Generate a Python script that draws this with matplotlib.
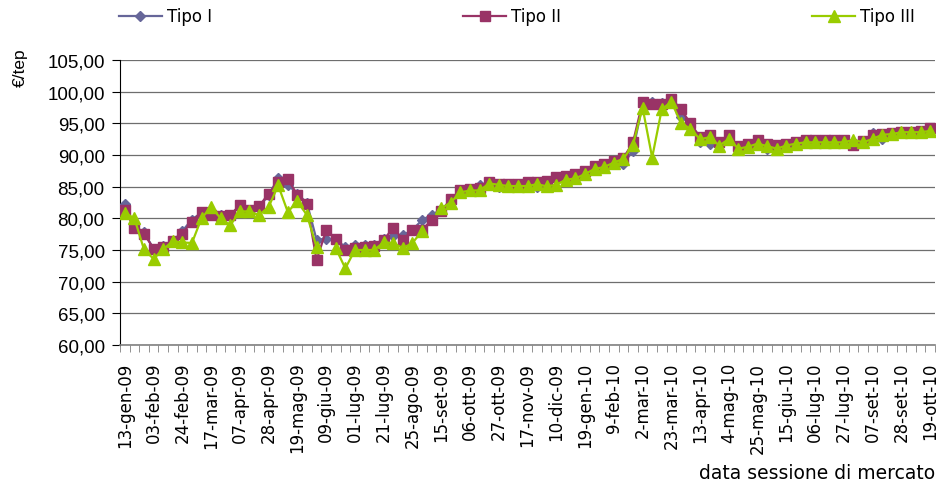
import numpy as np
import matplotlib
matplotlib.use("Agg")
import matplotlib.pyplot as plt
from matplotlib.ticker import FuncFormatter, MultipleLocator

nan = np.nan

# date labels shown on the axis (one every 3 sessions)
tick_labels = ["13-gen-09", "03-feb-09", "24-feb-09", "17-mar-09", "07-apr-09",
               "28-apr-09", "19-mag-09", "09-giu-09", "01-lug-09", "21-lug-09",
               "25-ago-09", "15-set-09", "06-ott-09", "27-ott-09", "17-nov-09",
               "10-dic-09", "19-gen-10", "9-feb-10", "2-mar-10", "23-mar-10",
               "13-apr-10", "4-mag-10", "25-mag-10", "15-giu-10", "06-lug-10",
               "27-lug-10", "07-set-10", "28-set-10", "19-ott-10"]
label_step = 3

tipo_1 = [82.3, 78.7, 77.8, 75.2, 75.6, 76.3, 78.0, 79.8, 80.9, 80.5,
          80.5, 80.4, 82.0, 81.3, 81.7, 83.7, 86.3, 85.3, 83.9, 82.4,
          76.6, 76.8, 76.6, 75.5, 75.8, 75.8, 75.8, 76.7, 77.2, 77.3,
          78.2, 79.7, 80.6, 81.3, 82.8, 84.2, 84.6, 85.2, 85.4, 84.9,
          85.0, 85.0, 85.3, 85.0, 85.6, 86.2, 86.5, 86.8, 87.4, 88.0,
          88.4, 88.9, 88.6, 90.7, 98.0, 98.4, 98.2, 98.6, 96.0, 95.0,
          92.0, 91.8, 92.0, 92.6, 91.2, 91.6, 92.0, 90.9, 91.4, 91.6,
          92.0, 92.2, 92.2, 92.2, 92.2, 92.2, 92.0, 92.1, 93.4, 92.6,
          93.3, 93.5, 93.6, 93.7, 93.6]

tipo_2 = [81.3, 78.5, 77.6, 75.2, 75.5, 76.4, 77.6, 79.5, 81.0, 80.5,
          80.3, 80.5, 82.1, 81.3, 81.9, 83.9, 85.8, 86.2, 83.7, 82.2,
          73.4, 78.1, 76.7, 75.0, 75.3, 75.5, 75.6, 76.6, 78.5, 76.6,
          78.1, 78.2, 79.7, 81.2, 83.0, 84.4, 84.7, 84.8, 85.7, 85.5,
          85.5, 85.5, 85.8, 85.7, 85.9, 86.5, 86.7, 87.0, 87.5, 88.2,
          88.6, 89.1, 89.5, 92.0, 98.3, 98.05, 98.05, 98.9, 97.2, 95.0,
          92.8, 93.1, 92.0, 93.1, 91.4, 91.8, 92.3, 91.8, 91.6, 91.8,
          92.1, 92.3, 92.3, 92.3, 92.3, 92.3, 91.6, 92.2, 93.1, 93.3,
          93.4, 93.6, 93.7, 93.8, 94.2]

tipo_3 = [80.9, 80.0, 75.1, 73.6, 75.1, 76.4, 76.2, 76.1, 80.0, 81.8,
          80.0, 78.9, 81.1, 81.1, 80.5, 81.8, 85.2, 81.0, 82.7, 80.5,
          75.5, nan, 75.3, 72.1, 75.0, 75.0, 75.0, 76.2, 76.1, 75.3,
          76.1, 78.0, nan, 81.6, 82.5, 84.1, 84.4, 84.4, 85.5, 85.3,
          85.1, 85.1, 85.1, 85.4, 85.05, 85.3, 86.1, 86.3, 87.0, 87.8,
          88.1, 88.8, 89.4, 91.6, 97.5, 89.6, 97.2, 98.4, 95.1, 94.1,
          92.5, 92.8, 91.5, 92.5, 91.0, 91.3, 91.8, 91.4, 91.0, 91.5,
          91.8, 92.0, 92.0, 92.0, 92.0, 92.0, 92.4, 92.0, 92.55, 93.2,
          93.3, 93.6, 93.6, 93.6, 93.8]

x = np.arange(len(tipo_1))

fig = plt.figure(figsize=(9.4, 4.85), dpi=100)
ax = fig.add_axes([120 / 940, 1 - 346 / 485, 815 / 940, 285 / 485])

ax.plot(x, tipo_1, color="#666699", lw=1.6, marker="D", ms=5.5,
        label="Tipo I", zorder=3)
ax.plot(x, tipo_2, color="#993366", lw=1.6, marker="s", ms=7.5,
        label="Tipo II", zorder=4)
ax.plot(x, tipo_3, color="#99CC00", lw=1.6, marker="^", ms=9,
        label="Tipo III", zorder=5)

ax.set_ylim(60, 105)
ax.set_xlim(-0.5, len(x) - 0.5)
ax.yaxis.set_major_locator(MultipleLocator(5))
ax.yaxis.set_major_formatter(FuncFormatter(lambda v, p: f"{v:.2f}".replace(".", ",")))
ax.grid(axis="y", color="#6e6e6e", lw=0.9)
ax.set_axisbelow(True)

ax.set_xticks(x[::label_step])
ax.set_xticklabels(tick_labels, rotation=90, fontsize=12, family="DejaVu Sans")
ax.set_xticks(np.arange(-0.5, len(x)), minor=True)
ax.tick_params(axis="x", which="major", length=0, pad=12)
ax.tick_params(axis="x", which="minor", length=5, color="#808080")
ax.tick_params(axis="y", length=6, labelsize=13.5, pad=5)
for t in ax.get_yticklabels():
    t.set_family("Liberation Sans")

for s in ["top", "right"]:
    ax.spines[s].set_visible(False)
ax.spines["left"].set_color("black")
ax.spines["bottom"].set_color("#808080")
ax.spines["bottom"].set_linewidth(1.2)

fig.text(20 / 940, 1 - 68 / 485, "€/tep", rotation=90, ha="center", va="center",
         fontsize=12.5, family="Liberation Sans")
fig.text(935 / 940, 1 - 474 / 485, "data sessione di mercato", ha="right",
         va="center", fontsize=13.5, family="DejaVu Sans")

fig.legend(loc="lower left", bbox_to_anchor=(112 / 940, 1 - 33 / 485, 810 / 940, 0.05),
           mode="expand", ncol=3, frameon=False, handlelength=2.6,
           prop={"family": "DejaVu Sans", "size": 12}, borderaxespad=0,
           handletextpad=0.3)

fig.savefig("out.png", dpi=100)
